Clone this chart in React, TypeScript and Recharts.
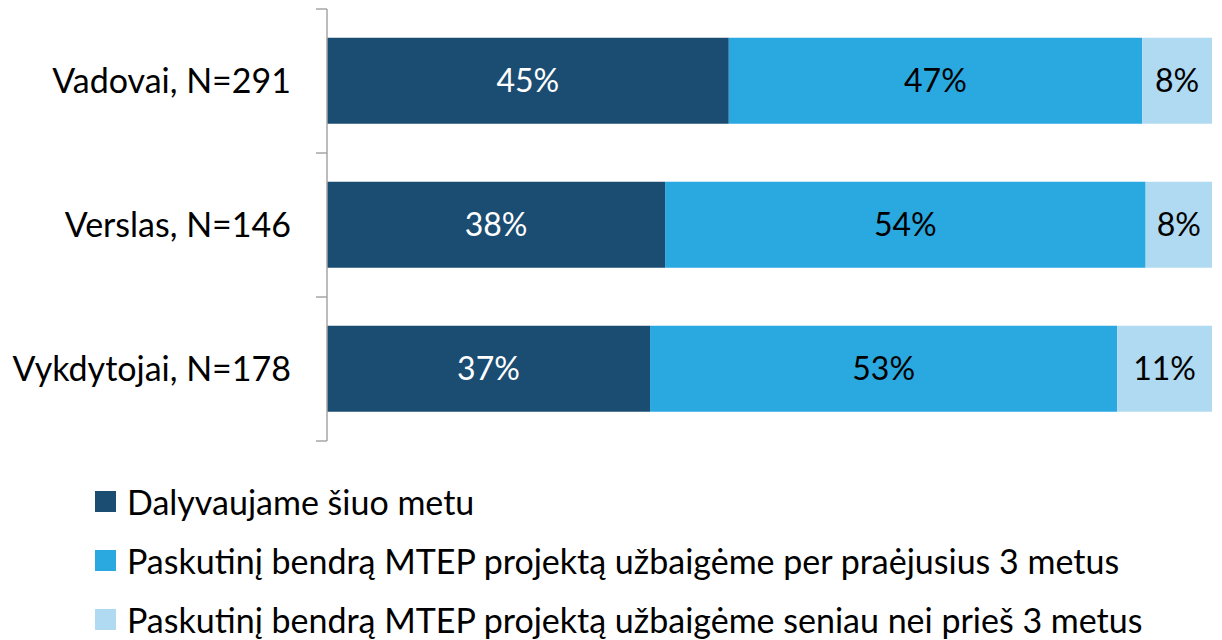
import { BarChart, Bar, XAxis, YAxis, LabelList } from 'recharts';

const categories = ['Vadovai, N=291', 'Verslas, N=146', 'Vykdytojai, N=178'];
const current = [45.4, 38.2, 36.5];
const recent = [46.7, 54.3, 52.8];
const older = [7.9, 7.5, 10.7];

const SERIES = [
  { key: 'current', name: 'Dalyvaujame šiuo metu', color: '#1b4c72', label: '#ffffff' },
  { key: 'recent', name: 'Paskutinį bendrą MTEP projektą užbaigėme per praėjusius 3 metus', color: '#29a9e0', label: '#000000' },
  { key: 'older', name: 'Paskutinį bendrą MTEP projektą užbaigėme seniau nei prieš 3 metus', color: '#b0daf2', label: '#000000' },
];

const FONT = 'Lato, "Open Sans", sans-serif';
const AXIS_GREY = '#a6a6a6';

const data = categories.map((name, i) => ({
  name,
  current: current[i],
  recent: recent[i],
  older: older[i],
}));

// category label plus Excel-style tick marks on the band edges
function CategoryTick(props: any) {
  const { x, y, payload, index, visibleTicksCount } = props;
  const half = payload.offset || 0;
  const last = index === visibleTicksCount - 1;
  return (
    <g>
      <line x1={x - 11} x2={x} y1={y - half} y2={y - half} stroke={AXIS_GREY} strokeWidth={1.5} />
      {last && <line x1={x - 11} x2={x} y1={y + half} y2={y + half} stroke={AXIS_GREY} strokeWidth={1.5} />}
      <text x={x - 36} y={y} dy="0.35em" textAnchor="end" fill="#000" fontSize={34} fontFamily={FONT}>
        {payload.value}
      </text>
    </g>
  );
}

function LegendBlock() {
  return (
    <div style={{ paddingLeft: 87, paddingTop: 22 }}>
      {SERIES.map((s) => (
        <div
          key={s.key}
          style={{ display: 'flex', alignItems: 'center', height: 59, fontFamily: FONT, fontSize: 34, color: '#000', whiteSpace: 'nowrap' }}
        >
          <span style={{ width: 21, height: 21, background: s.color, marginRight: 11, display: 'inline-block', flex: 'none' }} />
          {s.name}
        </div>
      ))}
    </div>
  );
}

export default function App() {
  return (
    <div style={{ width: 1214, fontFamily: FONT }}>
      <BarChart
        width={1214}
        height={442}
        data={data}
        layout="vertical"
        margin={{ top: 1, right: 10, bottom: 9, left: 0 }}
        barCategoryGap="20%"
      >
        <XAxis type="number" domain={[0, 100]} hide />
        <YAxis
          type="category"
          dataKey="name"
          width={319}
          axisLine={{ stroke: AXIS_GREY, strokeWidth: 1.5 }}
          tickLine={false}
          tickSize={0}
          tickMargin={0}
          tick={<CategoryTick />}
        />
        {SERIES.map((s) => (
          <Bar key={s.key} dataKey={s.key} name={s.name} stackId="a" fill={s.color} isAnimationActive={false}>
            <LabelList
              dataKey={s.key}
              position="center"
              fill={s.label}
              fontSize={32}
              fontFamily={FONT}
              formatter={(v: any) => `${Math.round(Number(v))}%`}
            />
          </Bar>
        ))}
      </BarChart>
      <LegendBlock />
    </div>
  );
}
